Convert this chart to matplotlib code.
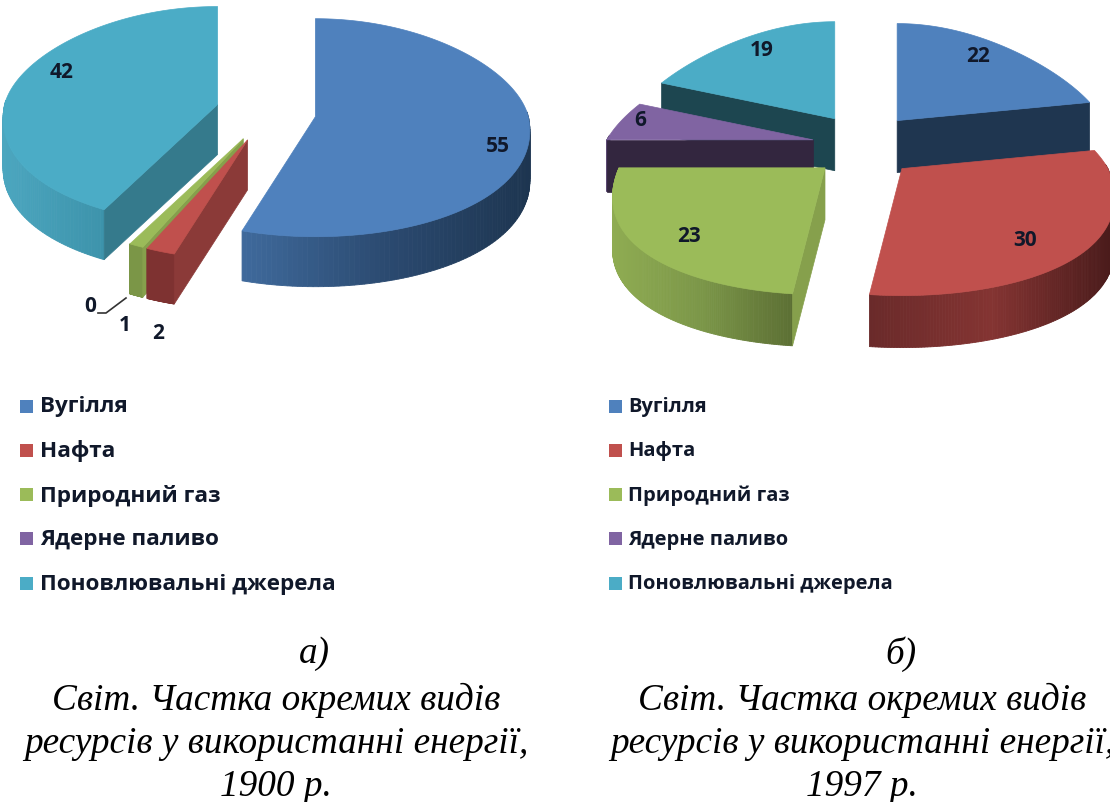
import numpy as np
import matplotlib
matplotlib.use('Agg')
import matplotlib.pyplot as plt
from matplotlib.colors import to_rgb
from matplotlib.patches import Polygon, Rectangle

# data
categories = ['Вугілля', 'Нафта', 'Природний газ', 'Ядерне паливо', 'Поновлювальні джерела']
values_1900 = [55, 2, 1, 0, 42]
values_1997 = [22, 30, 23, 6, 19]
caption_lines = ['Світ. Частка окремих видів', 'ресурсів у використанні енергії,']
years = ['1900 р.', '1997 р.']
letters = ['а)', 'б)']

# colours: top, cut face, outer wall stops (left to right)
top_cols = ['#4f81bd', '#c0504d', '#9bbb59', '#8064a2', '#4bacc6']
cut_cols = ['#1f3650', '#8b3a38', '#86a04c', '#33263f', '#1d4650']
wall_cols = [['#3f6a9c', '#2b4a70', '#1d3550'],
             ['#6a2a2a', '#843432', '#481a1a'],
             ['#8fac52', '#7b9648', '#5c6f34'],
             ['#5a4672', '#3a2c4a'],
             ['#4ba6bf', '#3d93ab']]
# the thin slices and the big teal one are lit differently in the 1900 pie
cut_1900 = {0: '#1f3650', 1: '#8b3a38', 2: '#86a04c', 4: '#357a8c'}
wall_1900 = {1: ['#7e3231', '#7e3231'], 2: ['#7b9647', '#7b9647']}

fig = plt.figure(figsize=(11.10, 8.03), dpi=100)
ax = fig.add_axes([0, 0, 1, 1])
ax.set_xlim(0, 1110)
ax.set_ylim(803, 0)
ax.axis('off')


def pt(p, t):
    # rim point of a pie at clockwise angle t from 12 o'clock
    c = np.cos(t)
    x = p['rx'] * np.sin(t) * (1 - p['k'] * c)
    y = np.where(c > 0, p['ry_back'], p['ry_front']) * (-c)
    return x, y


def mix(stops, f):
    rgb = np.array([to_rgb(s) for s in stops])
    pos = np.linspace(0, 1, len(stops))
    return tuple(np.interp(f, pos, rgb[:, i]) for i in range(3))


def draw_pie(values, p, cuts, walls):
    vals = np.array(values, dtype=float)
    edges = np.concatenate([[0], np.cumsum(vals) / vals.sum() * 2 * np.pi])
    order = sorted(np.nonzero(vals)[0], key=lambda i: -np.cos((edges[i] + edges[i + 1]) / 2))
    for z, i in enumerate(order):
        t0, t1 = edges[i], edges[i + 1]
        mid = (t0 + t1) / 2
        ox = p['cx'] + p['ex'] * np.sin(mid)
        oy = p['cy'] - p['ey'] * np.cos(mid)
        ts = np.linspace(t0, t1, 160)
        rx, ry = pt(p, ts)
        X, Y = ox + rx, oy + ry
        d = p['depth']
        # outer wall, a strip of thin quads for the shading
        front = np.nonzero((ts > np.pi / 2 - 0.05) & (ts < 3 * np.pi / 2 + 0.05))[0]
        if len(front) > 1:
            xa, xb = X[front].min(), X[front].max()
            for a, b in zip(front[:-1], front[1:]):
                f = ((X[a] + X[b]) / 2 - xa) / max(xb - xa, 1)
                col = mix(walls[i], f)
                ax.add_patch(Polygon([(X[a], Y[a]), (X[b], Y[b]), (X[b], Y[b] + d), (X[a], Y[a] + d)],
                                     fc=col, ec=col, lw=0.6, zorder=2 + z))
        # cut faces that look towards the viewer
        if X[0] < ox - 1:
            ax.add_patch(Polygon([(ox, oy), (X[0], Y[0]), (X[0], Y[0] + d), (ox, oy + d)],
                                 fc=cuts[i], ec=cuts[i], lw=0.5, zorder=2 + z))
        if X[-1] > ox + 1:
            ax.add_patch(Polygon([(ox, oy), (X[-1], Y[-1]), (X[-1], Y[-1] + d), (ox, oy + d)],
                                 fc=cuts[i], ec=cuts[i], lw=0.5, zorder=2 + z))
        ax.add_patch(Polygon(np.column_stack([np.r_[ox, X], np.r_[oy, Y]]),
                             fc=top_cols[i], ec=top_cols[i], lw=0.5, zorder=2 + z))


pie_a = dict(cx=266, cy=113, rx=213, ry_back=98, ry_front=120, k=0.12, ex=50, ey=30, depth=50)
pie_b = dict(cx=864, cy=147, rx=206, ry_back=97, ry_front=127, k=0.26, ex=52, ey=33, depth=52)

draw_pie(values_1900, pie_a, [cut_1900.get(i, c) for i, c in enumerate(cut_cols)],
         [wall_1900.get(i, w) for i, w in enumerate(wall_cols)])
draw_pie(values_1997, pie_b, cut_cols, wall_cols)

# data labels
lab_font = ['Open Sans', 'DejaVu Sans']
lab_pos_a = [(498, 146), (158, 334), (125, 326), (90, 307), (62, 72)]
lab_pos_b = [(978, 56), (1025, 241), (689, 236), (640, 121), (762, 51)]
for vals, pos in ((values_1900, lab_pos_a), (values_1997, lab_pos_b)):
    for v, (x, y) in zip(vals, pos):
        ax.text(x, y, str(v), ha='center', va='center', fontsize=15, fontweight='bold',
                family=lab_font, color='#10182a', zorder=20)
ax.plot([98, 106, 126], [314, 314, 299], color='#333333', lw=1.2, zorder=20)

# legends, the left one is rendered a bit wider in the source
for lx, tx, fs in ((20, 40, 16.2), (609, 628, 14.5)):
    for n, name in enumerate(categories):
        y = 407 + n * 44.3
        ax.add_patch(Rectangle((lx, y - 6.5), 13, 13, fc=top_cols[n], ec='none', zorder=20))
        ax.text(tx, y, name, va='center', ha='left', fontsize=fs, fontweight='bold',
                family=lab_font, color='#10182a', zorder=20)

# captions
cap = dict(family='Liberation Serif', style='italic', fontsize=26.8, ha='center', va='center',
           color='black', zorder=20)
for cx, lx, letter, year in ((276, 314, letters[0], years[0]), (862, 901, letters[1], years[1])):
    ax.text(lx, 654, letter, **cap)
    ax.text(cx, 700, caption_lines[0], **cap)
    ax.text(cx, 744, caption_lines[1], **cap)
    ax.text(cx, 787, year, **cap)

fig.savefig('out.png', dpi=100)
